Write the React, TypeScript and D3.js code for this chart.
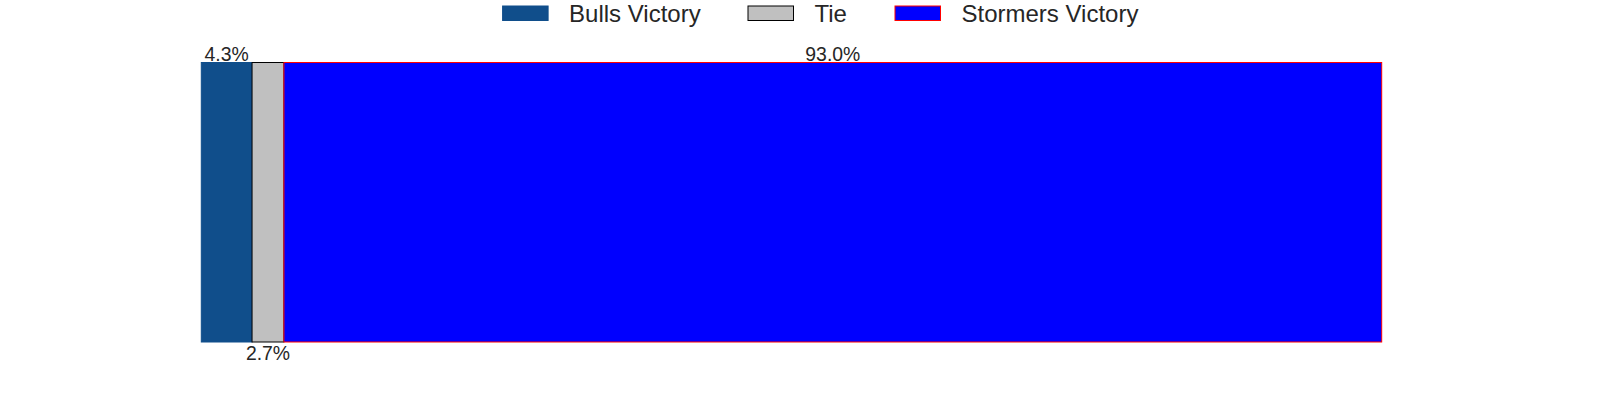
import React from "react";
import * as d3 from "d3";

const categories = ["Bulls Victory", "Tie", "Stormers Victory"];
const values = [4.3, 2.7, 93.0];
const fills = ["#104E8B", "#C0C0C0", "#0000FF"];
const strokes = ["#104E8B", "#000000", "#FF0000"];
const labelPos = ["above", "below", "above"];

export default function App() {
  const W = 1600, H = 400;
  const x = d3.scaleLinear().domain([0, 100]).range([201.3, 1381.7]);
  const y0 = 62.5, y1 = 342;
  const cum = values.reduce<number[]>((acc, v, i) => { acc.push((i ? acc[i - 1] : 0) + v); return acc; }, []);
  const starts = cum.map((c, i) => c - values[i]);
  const font = "'Liberation Sans', Arial, sans-serif";
  const legendX = [502.6, 748, 895];
  return (
    <svg width={W} height={H} style={{ position: "absolute", left: 0, top: 0 }}>
      <rect width={W} height={H} fill="#fff" />
      {values.map((v, i) => (
        <rect key={i} x={x(starts[i])} y={y0} width={x(cum[i]) - x(starts[i])} height={y1 - y0}
          fill={fills[i]} stroke={strokes[i]} strokeWidth={1} />
      ))}
      {values.map((v, i) => {
        const cx = (x(starts[i]) + x(cum[i])) / 2;
        return (
          <text key={"l" + i} x={cx} y={labelPos[i] === "above" ? 61 : 359.5} textAnchor="middle"
            fontFamily={font} fontSize={19.4} fill="#262626">{v.toFixed(1)}%</text>
        );
      })}
      {categories.map((c, i) => (
        <g key={"g" + i}>
          <rect x={legendX[i]} y={6} width={45.5} height={14.5} fill={fills[i]} stroke={strokes[i]} strokeWidth={1} />
          <text x={legendX[i] + 66.5} y={21.5} fontFamily={font} fontSize={24} fill="#262626">{c}</text>
        </g>
      ))}
    </svg>
  );
}
